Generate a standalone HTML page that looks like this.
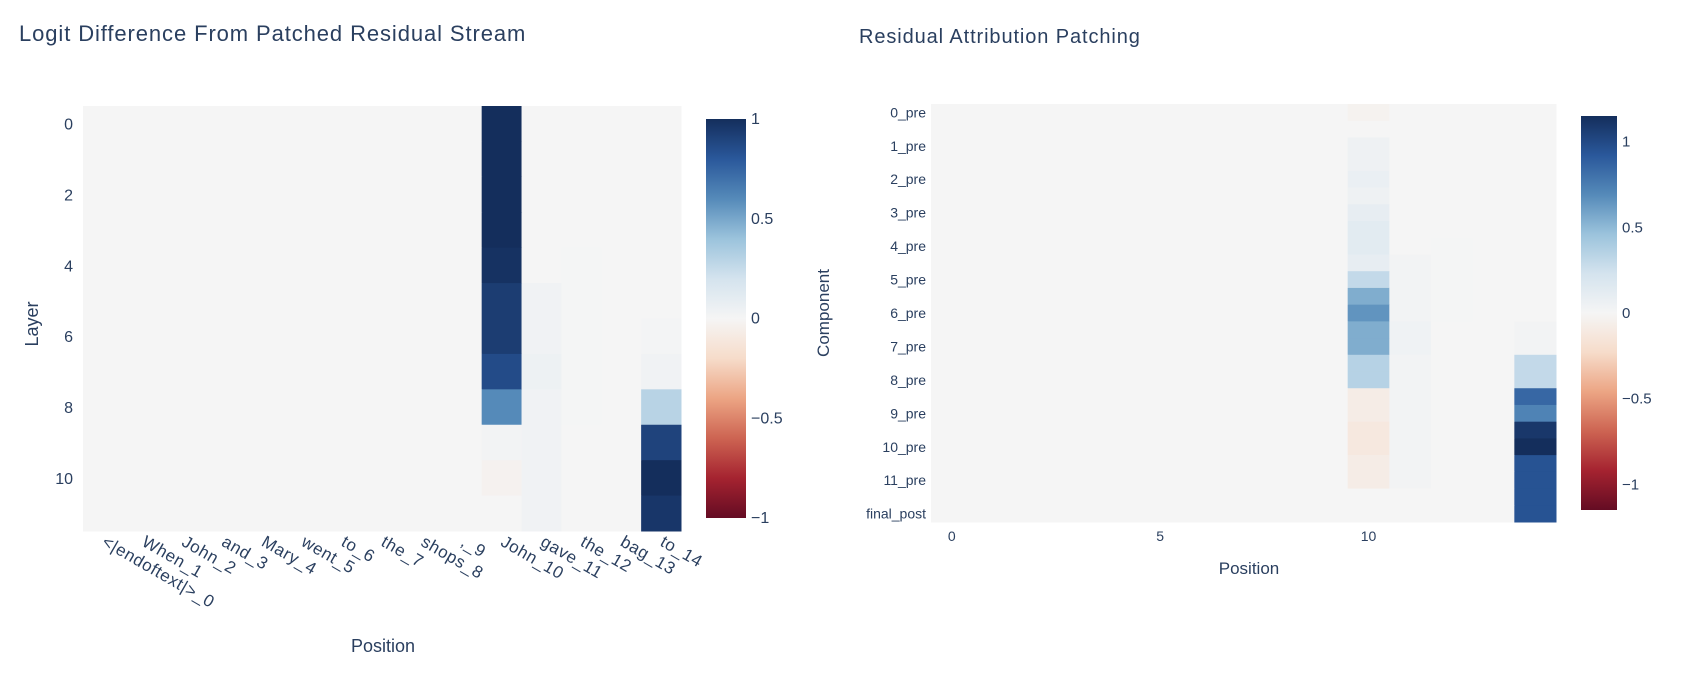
<!DOCTYPE html>
<html><head><meta charset="utf-8"><style>
html,body{margin:0;padding:0;background:#fff;}
svg{display:block;font-family:"Liberation Sans","DejaVu Sans",sans-serif;}
text{fill:#2a3f5f;}
</style></head><body>
<svg id="root" width="1686" height="674" viewBox="0 0 1686 674" xmlns="http://www.w3.org/2000/svg">
<defs>
<linearGradient id="cbgrad" x1="0" y1="1" x2="0" y2="0">
<stop offset="0" stop-color="rgb(100,12,35)"/><stop offset="0.1" stop-color="rgb(165,35,48)"/><stop offset="0.2" stop-color="rgb(205,100,82)"/><stop offset="0.3" stop-color="rgb(236,165,132)"/><stop offset="0.4" stop-color="rgb(246,220,202)"/><stop offset="0.5" stop-color="rgb(245,245,245)"/><stop offset="0.6" stop-color="rgb(212,227,238)"/><stop offset="0.7" stop-color="rgb(155,195,220)"/><stop offset="0.8" stop-color="rgb(85,138,185)"/><stop offset="0.9" stop-color="rgb(42,88,155)"/><stop offset="1" stop-color="rgb(20,46,92)"/>
</linearGradient>
</defs>
<text x="19" y="41" font-size="22" letter-spacing="0.9">Logit Difference From Patched Residual Stream</text>
<text x="859" y="43" font-size="20" letter-spacing="0.9">Residual Attribution Patching</text>
<g id="left"></g>
<g id="right"></g>
<rect x="706" y="119" width="40" height="399" fill="url(#cbgrad)"/>
<rect x="1581" y="116" width="36" height="394" fill="url(#cbgrad)"/>
<text transform="translate(38,324) rotate(-90)" text-anchor="middle" font-size="18">Layer</text>
<text x="383" y="652" text-anchor="middle" font-size="18">Position</text>
<text transform="translate(829,313) rotate(-90)" text-anchor="middle" font-size="17">Component</text>
<text x="1249" y="574" text-anchor="middle" font-size="17">Position</text>
</svg>
<script>
const leftTokens = ["<|endoftext|>_0","When_1","John_2","and_3","Mary_4","went_5","to_6","the_7","shops_8",",_9","John_10","gave_11","the_12","bag_13","to_14"];
const leftLayers = [0,1,2,3,4,5,6,7,8,9,10,11];
const leftYTicks = [0,2,4,6,8,10];
const leftCol10 = [1.0,1.0,1.0,1.0,0.98,0.93,0.93,0.86,0.6,0.02,-0.03,0];
const leftCol11 = [0,0,0,0,0,0.03,0.03,0.05,0.03,0.03,0.03,0.03];
const leftCol12 = [0,0,0,0,0.005,0.005,0.005,0.005,0.005,0,0,0];
const leftCol14 = [0,0,0,0,0,0,0.01,0.03,0.3,0.9,1.0,0.96];
const leftCbTicks = [1,0.5,0,-0.5,-1];

const rightComponents = [];
for (let i=0;i<12;i++){ rightComponents.push(i+"_pre"); rightComponents.push(i+"_mid"); }
rightComponents.push("final_post");
const rightXTicks = [0,5,10];
const rightCol10 = [-0.03,0,0.05,0.05,0.08,0.05,0.1,0.13,0.13,0.1,0.3,0.55,0.65,0.55,0.55,0.35,0.35,-0.08,-0.08,-0.12,-0.12,-0.08,-0.08,0,0];
const rightCol11 = [0,0,0,0,0,0,0,0,0,0.02,0.02,0.02,0.02,0.04,0.04,0.02,0.02,0.02,0.02,0.02,0.02,0.02,0.02,0,0];
const rightCol12 = [0,0,0,0,0,0,0,0,0.005,0.005,0.005,0.005,0.005,0,0,0,0,0,0,0,0,0,0,0,0];
const rightCol14 = [0,0,0,0,0,0,0,0,0,0,0,0,0,0.02,0.02,0.3,0.3,0.85,0.72,1.1,1.15,0.95,0.95,0.95,0.95];
const rightCbTicks = [1,0.5,0,-0.5,-1];

const NS="http://www.w3.org/2000/svg";
const stops=[[100,12,35],[165,35,48],[205,100,82],[236,165,132],[246,220,202],[245,245,245],[212,227,238],[155,195,220],[85,138,185],[42,88,155],[20,46,92]];
function color(v,max){
  let t=(v/max+1)/2; t=Math.max(0,Math.min(1,t));
  const p=t*10, i=Math.min(9,Math.floor(p)), f=p-i;
  const a=stops[i], b=stops[i+1];
  return "rgb("+a.map((c,k)=>Math.round(c+(b[k]-c)*f)).join(",")+")";
}
function mk(tag,attrs,parent,txt){
  const e=document.createElementNS(NS,tag);
  for(const k in attrs) e.setAttribute(k,attrs[k]);
  if(txt!==undefined) e.textContent=txt;
  parent.appendChild(e); return e;
}
function buildGrid(nRows,nCols,cols){
  const g=[];
  for(let r=0;r<nRows;r++){ const row=[]; for(let c=0;c<nCols;c++){ row.push(cols[c]?cols[c][r]:0);} g.push(row);}
  return g;
}

// LEFT
(function(){
  const G=document.getElementById("left");
  const x0=83,x1=681,y0=106,y1=531,max=1;
  const nC=leftTokens.length,nR=leftLayers.length;
  const cw=(x1-x0)/nC, rh=(y1-y0)/nR;
  const xs=c=>x0+c*cw, ys=r=>y0+r*rh;
  const grid=buildGrid(nR,nC,{10:leftCol10,11:leftCol11,12:leftCol12,14:leftCol14});
  const bg=mk("rect",{x:x0,y:y0,width:x1-x0,height:y1-y0,fill:"#f5f5f5"},G);
  
  
  for(let r=0;r<nR;r++)for(let c=0;c<nC;c++){
    const e=mk("rect",{x:xs(c),y:ys(r),width:cw+0.5,height:rh+0.5,fill:color(grid[r][c],max)},G);
    
    
  }
  leftYTicks.forEach(v=>{
    const e=mk("text",{x:x0-10,y:ys(v)+rh/2+6,"text-anchor":"end","font-size":16},G,String(v));
    
    
  });
  leftTokens.forEach((t,c)=>{
    const cx=xs(c)+cw/2-2, cy=y1+14;
    const e=mk("text",{transform:"translate("+cx+","+cy+") rotate(30)","text-anchor":"start","font-size":17,"letter-spacing":"0.6"},G,t);
    
    
  });
  const cy0=119,cy1=518;
  leftCbTicks.forEach(v=>{
    const y=cy1-(v+1)/2*(cy1-cy0);
    const e=mk("text",{x:751,y:y+5,"font-size":16},G,String(v).replace("-","\u2212"));
    
    
  });
})();

// RIGHT
(function(){
  const G=document.getElementById("right");
  const x0=931,x1=1556,y0=104,y1=522,max=1.15;
  const nC=15,nR=rightComponents.length;
  const cw=(x1-x0)/nC, rh=(y1-y0)/nR;
  const xs=c=>x0+c*cw, ys=r=>y0+r*rh;
  const grid=buildGrid(nR,nC,{10:rightCol10,11:rightCol11,12:rightCol12,14:rightCol14});
  const bg=mk("rect",{x:x0,y:y0,width:x1-x0,height:y1-y0,fill:"#f5f5f5"},G);
  
  
  for(let r=0;r<nR;r++)for(let c=0;c<nC;c++){
    const e=mk("rect",{x:xs(c),y:ys(r),width:cw+0.5,height:rh+0.5,fill:color(grid[r][c],max)},G);
    
    
  }
  rightComponents.forEach((lab,r)=>{
    if(r%2!==0) return;
    const e=mk("text",{x:x0-5,y:ys(r)+rh/2+5,"text-anchor":"end","font-size":14},G,lab);
    
    
  });
  rightXTicks.forEach(v=>{
    const e=mk("text",{x:xs(v)+cw/2,y:y1+19,"text-anchor":"middle","font-size":14},G,String(v));
    
    
  });
  const cy0=116,cy1=510;
  rightCbTicks.forEach(v=>{
    const y=(cy0+cy1)/2-v/max*(cy1-cy0)/2;
    const e=mk("text",{x:1622,y:y+5,"font-size":15},G,String(v).replace("-","\u2212"));
    
    
  });
})();
</script>
</body></html>
